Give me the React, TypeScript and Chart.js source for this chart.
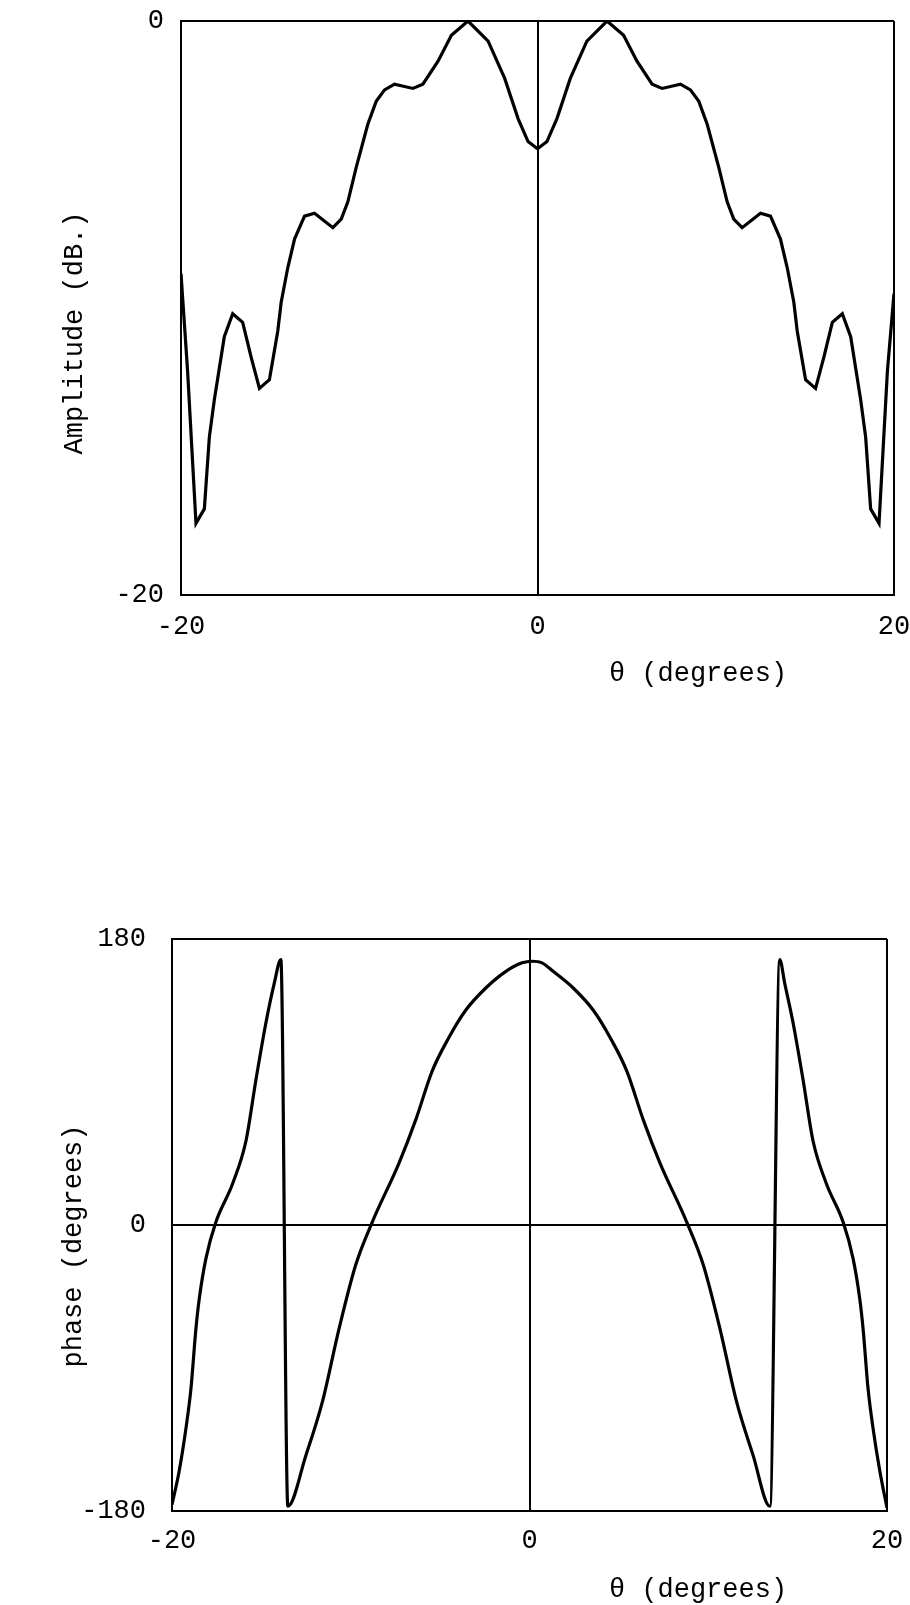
import React, { useEffect, useRef } from "react";
import { Chart, registerables } from "chart.js";

Chart.register(...registerables);

// ---------- data ----------
const ampTheta = [
  -20.0, -19.63, -19.16, -18.69, -18.41, -18.13, -17.57, -17.1, -16.54, -16.07,
  -15.6, -15.04, -14.57, -14.38, -14.01, -13.63, -13.07, -12.51, -11.48, -11.01,
  -10.64, -10.17, -9.52, -9.05, -8.58, -8.02, -6.99, -6.43, -5.58, -4.83,
  -3.9, -2.77, -1.84, -1.09, -0.53, 0.0,
  0.53, 1.09, 1.84, 2.77, 3.9, 4.83, 5.58, 6.43, 6.99, 8.02,
  8.58, 9.05, 9.52, 10.17, 10.64, 11.01, 11.48, 12.51, 13.07, 13.63,
  14.01, 14.38, 14.57, 15.04, 15.6, 16.07, 16.54, 17.1, 17.57, 18.13,
  18.41, 18.69, 19.16, 19.63, 20.0,
];
const ampDb = [
  -8.8, -12.2, -17.5, -17.0, -14.5, -13.2, -11.0, -10.2, -10.5, -11.7,
  -12.8, -12.5, -10.8, -9.8, -8.6, -7.6, -6.8, -6.7, -7.2, -6.9,
  -6.3, -5.1, -3.6, -2.8, -2.4, -2.2, -2.35, -2.2, -1.4, -0.5,
  0.0, -0.7, -2.0, -3.4, -4.2, -4.45,
  -4.2, -3.4, -2.0, -0.7, 0.0, -0.5, -1.4, -2.2, -2.35, -2.2,
  -2.4, -2.8, -3.6, -5.1, -6.3, -6.9, -7.2, -6.7, -6.8, -7.6,
  -8.6, -9.8, -10.8, -12.5, -12.8, -11.7, -10.5, -10.2, -11.0, -13.2,
  -14.5, -17.0, -17.5, -12.2, -9.5,
];

const phaseTheta = [
  -20.0, -19.6, -19.22, -18.94, -18.66, -18.47, -18.1, -17.54, -16.61, -15.86,
  -15.31, -14.75, -14.28, -13.91, -13.52, -12.51, -11.58, -10.65, -9.72, -8.79,
  -7.3, -6.37, -5.44, -4.51, -3.58, -2.46, -1.34, -0.41, 0.15,
  0.7, 1.34, 2.46, 3.58, 4.51, 5.44, 6.37, 7.3, 8.79, 9.72,
  10.65, 11.58, 12.51, 13.45, 14.0, 14.28, 14.75, 15.31, 15.86, 16.61,
  17.54, 18.1, 18.47, 18.66, 18.94, 19.22, 19.6, 20.0,
];
const phaseDeg = [
  -176, -155, -128, -103, -65, -46, -21, 2, 26, 53,
  91, 127, 152, 167, -177, -145, -111, -65, -25, 2,
  39, 66, 97, 118, 135, 149, 159.5, 165, 166,
  165, 159.5, 149, 135, 118, 97, 66, 39, 2, -25,
  -65, -111, -145, -177, 167, 152, 127, 91, 53, 26,
  2, -21, -46, -65, -103, -128, -155, -178,
];

const xTickValues = [-20, 0, 20];
const ampTickValues = [-20, 0];
const phaseTickValues = [-180, 0, 180];

const xTitleText = "\u03b8 (degrees)";
const ampTitleText = "Amplitude (dB.)";
const phaseTitleText = "phase (degrees)";

// ---------- styling ----------
const FONT_FAMILY = '"Liberation Mono", "Courier New", monospace';
const FONT_SIZE = 27;
const INK = "#000";

const titlesPlugin = {
  id: "plotTitles",
  afterDraw(chart: any, _args: any, o: any) {
    const ctx = chart.ctx;
    ctx.save();
    ctx.fillStyle = INK;
    ctx.font = `${FONT_SIZE}px ${FONT_FAMILY}`;
    ctx.textAlign = "center";
    ctx.textBaseline = "middle";
    ctx.fillText(o.xTitle, o.xTitleX, o.xTitleY);
    ctx.translate(o.yTitleX, o.yTitleY);
    ctx.rotate(-Math.PI / 2);
    ctx.fillText(o.yTitle, 0, 0);
    ctx.restore();
  },
};

type PlotProps = {
  width: number;
  height: number;
  theta: number[];
  values: number[];
  yTicks: number[];
  yMin: number;
  yMax: number;
  yTitle: string;
  padTop: number;
  padRight: number;
  yAxisWidth: number;
  xAxisHeight: number;
  yLabelPad: number;
  xLabelPad: number;
  xTitleX: number;
  xTitleY: number;
  yTitleX: number;
  yTitleY: number;
  smooth: boolean;
};

function Plot(p: PlotProps) {
  const ref = useRef<HTMLCanvasElement | null>(null);
  useEffect(() => {
    if (!ref.current) return;
    const data = p.theta.map((t, i) => ({ x: t, y: p.values[i] }));
    const tickFont = { family: FONT_FAMILY, size: FONT_SIZE } as any;
    const chart = new Chart(ref.current, {
      type: "line",
      data: {
        datasets: [
          {
            data,
            borderColor: INK,
            borderWidth: 3.2,
            pointRadius: 0,
            fill: false,
            tension: 0,
            cubicInterpolationMode: p.smooth ? "monotone" : "default",
          } as any,
        ],
      },
      options: {
        animation: false,
        responsive: false,
        maintainAspectRatio: false,
        layout: { padding: { top: p.padTop, right: p.padRight, left: 0, bottom: 0 } },
        plugins: {
          legend: { display: false },
          tooltip: { enabled: false },
          plotTitles: {
            xTitle: xTitleText,
            yTitle: p.yTitle,
            xTitleX: p.xTitleX,
            xTitleY: p.xTitleY,
            yTitleX: p.yTitleX,
            yTitleY: p.yTitleY,
          },
        } as any,
        scales: {
          x: {
            type: "linear",
            min: -20,
            max: 20,
            afterBuildTicks: (s: any) => {
              s.ticks = xTickValues.map((v) => ({ value: v }));
            },
            afterFit: (s: any) => {
              s.height = p.xAxisHeight;
              s.paddingLeft = 0;
              s.paddingRight = 0;
              s.paddingTop = 0;
              s.paddingBottom = 0;
            },
            grid: { color: INK, lineWidth: 2, drawTicks: false },
            border: { display: true, color: INK, width: 2 },
            ticks: {
              color: INK,
              padding: p.xLabelPad,
              maxRotation: 0,
              autoSkip: false,
              font: tickFont,
              callback: (v: any) => String(v),
            },
          },
          y: {
            type: "linear",
            min: p.yMin,
            max: p.yMax,
            afterBuildTicks: (s: any) => {
              s.ticks = p.yTicks.map((v) => ({ value: v }));
            },
            afterFit: (s: any) => {
              s.width = p.yAxisWidth;
              s.paddingLeft = 0;
              s.paddingRight = 0;
              s.paddingTop = 0;
              s.paddingBottom = 0;
            },
            grid: { color: INK, lineWidth: 2, drawTicks: false },
            border: { display: true, color: INK, width: 2 },
            ticks: {
              color: INK,
              padding: p.yLabelPad,
              autoSkip: false,
              font: tickFont,
              callback: (v: any) => String(v),
            },
          },
        },
      },
      plugins: [titlesPlugin],
    });
    return () => chart.destroy();
  }, []);
  return <canvas ref={ref} width={p.width} height={p.height} style={{ display: "block", width: p.width, height: p.height }} />;
}

export default function App() {
  return (
    <div style={{ position: "absolute", left: 0, top: 0, width: 910, height: 1605, background: "#fff" }}>
      <div style={{ position: "absolute", left: 0, top: 0 }}>
        <Plot
          width={910}
          height={700}
          theta={ampTheta}
          values={ampDb}
          yTicks={ampTickValues}
          yMin={-20}
          yMax={0}
          yTitle={ampTitleText}
          padTop={21}
          padRight={16}
          yAxisWidth={181}
          xAxisHeight={105}
          yLabelPad={17}
          xLabelPad={16}
          xTitleX={698}
          xTitleY={674}
          yTitleX={75}
          yTitleY={333}
          smooth={false}
        />
      </div>
      <div style={{ position: "absolute", left: 0, top: 900 }}>
        <Plot
          width={910}
          height={705}
          theta={phaseTheta}
          values={phaseDeg}
          yTicks={phaseTickValues}
          yMin={-180}
          yMax={180}
          yTitle={phaseTitleText}
          padTop={39}
          padRight={23}
          yAxisWidth={172}
          xAxisHeight={94}
          yLabelPad={26}
          xLabelPad={14}
          xTitleX={698}
          xTitleY={690}
          yTitleX={74}
          yTitleY={346}
          smooth={true}
        />
      </div>
    </div>
  );
}
